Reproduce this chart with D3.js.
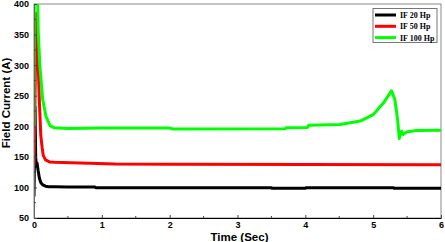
<!DOCTYPE html>
<html>
<head>
<meta charset="utf-8">
<script src="https://cdnjs.cloudflare.com/ajax/libs/d3/7.8.5/d3.min.js"></script>
<style>
  html, body { margin: 0; padding: 0; background: #fff; }
  svg { display: block; }
</style>
</head>
<body>
<svg id="chart" width="445" height="242"></svg>
<script>
// ---- data ----
const seriesNames = ["IF 20 Hp", "IF 50 Hp", "IF 100 Hp"];
const seriesColors = ["#000000", "#ff0000", "#00ff00"];

const tBlack = [0, 0.005, 0.015, 0.025, 0.035, 0.045, 0.06, 0.08, 0.1, 0.13, 0.17, 0.22, 0.3, 0.5, 0.9, 0.91, 2.0, 3.5, 3.51, 4.0, 4.01, 5.3, 5.31, 6];
const vBlack = [85, 130, 232, 150, 135, 140, 128, 115, 108, 104, 102, 101, 101, 100.5, 100.5, 99.5, 99.5, 99.5, 98.5, 98.5, 99.5, 99.5, 98.5, 98.5];

const tRed = [0, 0.01, 0.03, 0.04, 0.05, 0.063, 0.078, 0.1, 0.12, 0.137, 0.17, 0.236, 0.3, 0.55, 1.2, 2, 4, 6];
const vRed = [135, 200, 380, 385, 340, 297, 244, 185, 165, 152, 145, 141.5, 141, 140.5, 138.5, 138, 137.5, 137];

const tGreen = [0, 0.005, 0.045, 0.063, 0.088, 0.128, 0.177, 0.236, 0.3, 0.5, 1.0, 2.0, 2.05, 3.7, 3.72, 4.03, 4.05, 4.51, 4.81, 5.0, 5.15, 5.25, 5.27, 5.32, 5.36, 5.385, 5.42, 5.445, 5.49, 5.64, 6];
const vGreen = [200, 450, 450, 353, 297, 244, 216, 201, 197.5, 196.5, 197, 197, 195.5, 196, 197.5, 198, 201.5, 203, 208.5, 219, 238, 254.6, 258, 243.7, 211, 180, 192, 186.7, 190.5, 193, 193.5];

const xTicks = [0, 1, 2, 3, 4, 5, 6];
const yTicks = [50, 100, 150, 200, 250, 300, 350, 400];

// ---- layout ----
const mLeft = 34, mRight = 441, mTop = 4, mBottom = 218;
const svg = d3.select("#chart");

const x = d3.scaleLinear().domain([0, 6]).range([mLeft, mRight]);
const y = d3.scaleLinear().domain([50, 400]).range([mBottom, mTop]);

svg.append("defs").append("clipPath").attr("id", "clip")
  .append("rect").attr("x", mLeft).attr("y", mTop).attr("width", mRight - mLeft).attr("height", mBottom - mTop);

// frame (top/right gray)
svg.append("rect").attr("x", mLeft).attr("y", mTop).attr("width", mRight - mLeft).attr("height", mBottom - mTop)
  .attr("fill", "none").attr("stroke", "#888").attr("stroke-width", 1);

// lines
const series = [
  {t: tBlack, v: vBlack},
  {t: tRed, v: vRed},
  {t: tGreen, v: vGreen}
];
const line = d3.line().x(d => x(d[0])).y(d => y(d[1]));
const g = svg.append("g").attr("clip-path", "url(#clip)");
series.forEach((s, i) => {
  g.append("path")
    .attr("d", line(s.t.map((t, k) => [t, s.v[k]])))
    .attr("fill", "none")
    .attr("stroke", seriesColors[i])
    .attr("stroke-width", 3)
    .attr("stroke-linejoin", "round");
});

// axes
const xAxis = d3.axisBottom(x).tickValues(xTicks).tickFormat(d3.format("d")).tickSizeInner(-3).tickSizeOuter(0).tickPadding(4);
const gx = svg.append("g").attr("transform", `translate(0,${mBottom})`).call(xAxis);
gx.select(".domain").attr("stroke", "#000").attr("stroke-width", 1.2);
gx.selectAll(".tick line").attr("stroke", "#444");
gx.selectAll("text").attr("font-family", "Liberation Sans, Arial, sans-serif").attr("font-weight", "bold").attr("font-size", 9).attr("fill", "#000");
// minor x ticks
svg.append("g").selectAll("line").data(d3.range(0.5, 6, 1)).join("line")
  .attr("x1", d => x(d)).attr("x2", d => x(d)).attr("y1", mBottom).attr("y2", mBottom - 2)
  .attr("stroke", "#444");

const yAxis = d3.axisLeft(y).tickValues(yTicks).tickFormat(d3.format("d")).tickSizeInner(-3).tickSizeOuter(0).tickPadding(5);
const gy = svg.append("g").attr("transform", `translate(${mLeft},0)`).call(yAxis);
gy.select(".domain").attr("stroke", "#666").attr("stroke-width", 1);
gy.selectAll(".tick line").attr("stroke", "#444");
gy.selectAll("text").attr("font-family", "Liberation Sans, Arial, sans-serif").attr("font-weight", "bold").attr("font-size", 9).attr("fill", "#000");
svg.append("g").selectAll("line").data(d3.range(75, 400, 50)).join("line")
  .attr("x1", mLeft).attr("x2", mLeft + 2).attr("y1", d => y(d)).attr("y2", d => y(d))
  .attr("stroke", "#444");

// axis titles
svg.append("text").attr("x", (mLeft + mRight) / 2 + 2).attr("y", 240.5)
  .attr("text-anchor", "middle").attr("font-family", "Liberation Sans, Arial, sans-serif")
  .attr("font-weight", "bold").attr("font-size", 11.5).text("Time (Sec)");
svg.append("text").attr("transform", "translate(10,103) rotate(-90)")
  .attr("text-anchor", "middle").attr("font-family", "Liberation Sans, Arial, sans-serif")
  .attr("font-weight", "bold").attr("font-size", 11.5).text("Field Current (A)");

// legend
const lg = svg.append("g");
lg.append("rect").attr("x", 373).attr("y", 8.5).attr("width", 64).attr("height", 34)
  .attr("fill", "#fff").attr("stroke", "#777").attr("stroke-width", 1);
seriesNames.forEach((name, i) => {
  const yy = 15 + i * 11.3;
  lg.append("line").attr("x1", 375).attr("x2", 396).attr("y1", yy).attr("y2", yy)
    .attr("stroke", seriesColors[i]).attr("stroke-width", 3);
  lg.append("text").attr("x", 400).attr("y", yy + 3)
    .attr("font-family", "Liberation Serif, Times New Roman, serif")
    .attr("font-weight", "bold").attr("font-size", 8).text(name);
});
</script>
</body>
</html>
